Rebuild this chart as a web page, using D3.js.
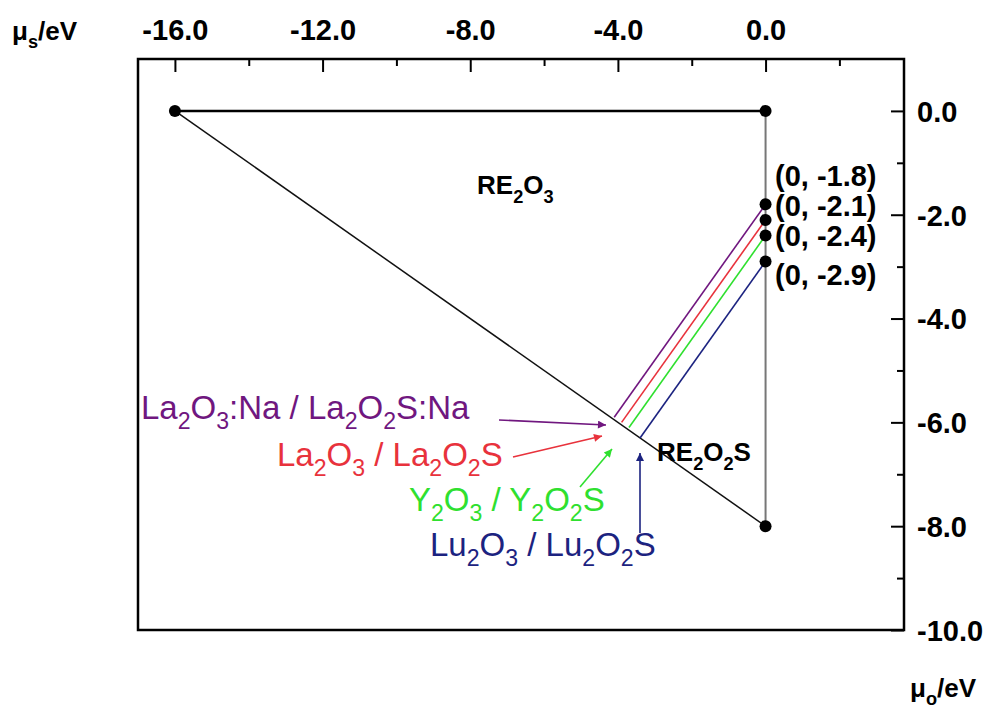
<!DOCTYPE html>
<html>
<meta charset="utf-8">
<script src="https://d3js.org/d3.v7.js"></script>
<style>
  body { margin: 0; background: #fff; }
  text { font-family: "Liberation Sans", Arial, sans-serif; }
</style>
<body>
<div id="my_dataviz"></div>
<script type="text/javascript">
  // phase triangle corners (mu_O, mu_S)
  var corners = [[-16, 0], [0, 0], [0, -8]]
  // mu_S limits on the mu_O = 0 edge
  var limits = [-1.8, -2.1, -2.4, -2.9]
  var limitLabels = ["(0, -1.8)", "(0, -2.1)", "(0, -2.4)", "(0, -2.9)"]
  // coexistence lines end on the RE2O3 / RE2O2S boundary
  var lineEnds = [[-4.1, -5.9], [-3.9, -6.0], [-3.7, -6.1], [-3.4, -6.3]]
  var systems = ["La{2}O{3}:Na / La{2}O{2}S:Na", "La{2}O{3} / La{2}O{2}S", "Y{2}O{3} / Y{2}O{2}S", "Lu{2}O{3} / Lu{2}O{2}S"]
  var colors = ["#70177f", "#e8323c", "#2fe02f", "#1c2380"]
  var xTicks = [-16, -12, -8, -4, 0]
  var xMinor = [-14, -10, -6, -2, 2]
  var yTicks = [0, -2, -4, -6, -8, -10]
  var yMinor = [-1, -3, -5, -7, -9]

  var W = 991, H = 722
  var svg = d3.select("#my_dataviz")
    .append("svg")
      .attr("width", W)
      .attr("height", H)

  var x = d3.scaleLinear().domain([-17, 3.75]).range([138, 904])
  var y = d3.scaleLinear().domain([-10, 1]).range([630, 59])

  // write text with {sub} parts as subscripts
  function rich(g, str, sub) {
    var parts = str.split(/(\{[^}]*\})/).filter(function(s){ return s.length })
    var down = false
    parts.forEach(function(p) {
      var isSub = p[0] == "{"
      var t = g.append("tspan").text(isSub ? p.slice(1, -1) : p)
      if (isSub) {
        t.attr("font-size", "0.7em").attr("dy", sub + "em")
        down = true
      } else if (down) {
        t.attr("dy", (-sub * 0.7) + "em")
        down = false
      }
    })
    return g
  }

  // frame
  svg.append("rect")
    .attr("x", x(-17)).attr("y", y(1))
    .attr("width", x(3.75) - x(-17)).attr("height", y(-10) - y(1))
    .attr("fill", "none").attr("stroke", "#000").attr("stroke-width", 2.5)

  // top axis
  var fmt = function(d) { return d.toFixed(1) }
  var top = svg.append("g").attr("transform", "translate(0," + y(1) + ")")
    .call(d3.axisTop(x).tickValues(xTicks).tickSize(-13).tickPadding(19).tickFormat(fmt))
  svg.append("g").attr("transform", "translate(0," + y(1) + ")")
    .call(d3.axisTop(x).tickValues(xMinor).tickSize(-7).tickFormat(""))
  // right axis
  var right = svg.append("g").attr("transform", "translate(" + x(3.75) + ",0)")
    .call(d3.axisRight(y).tickValues(yTicks).tickSize(-13).tickPadding(13).tickFormat(fmt))
  svg.append("g").attr("transform", "translate(" + x(3.75) + ",0)")
    .call(d3.axisRight(y).tickValues(yMinor).tickSize(-7).tickFormat(""))

  svg.selectAll(".domain").remove()
  svg.selectAll(".tick line").attr("stroke", "#000").attr("stroke-width", 2)
  svg.selectAll(".tick text")
    .attr("fill", "#000").attr("font-size", 29).attr("font-weight", "bold")
    .attr("font-family", "Liberation Sans, Arial, sans-serif")
  right.selectAll(".tick text").attr("dy", "0.36em")

  // triangle edges
  svg.append("line")
    .attr("x1", x(corners[0][0])).attr("y1", y(corners[0][1]))
    .attr("x2", x(corners[1][0])).attr("y2", y(corners[1][1]))
    .attr("stroke", "#000").attr("stroke-width", 2.5)
  svg.append("line")
    .attr("x1", x(corners[0][0])).attr("y1", y(corners[0][1]))
    .attr("x2", x(corners[2][0])).attr("y2", y(corners[2][1]))
    .attr("stroke", "#111").attr("stroke-width", 1.5)
  svg.append("line")
    .attr("x1", x(corners[1][0])).attr("y1", y(corners[1][1]))
    .attr("x2", x(corners[2][0])).attr("y2", y(corners[2][1]))
    .attr("stroke", "#777").attr("stroke-width", 2)

  // coexistence lines
  svg.selectAll(".coex")
    .data(limits)
    .enter()
    .append("line")
      .attr("x1", x(0))
      .attr("y1", function(d) { return y(d) })
      .attr("x2", function(d, i) { return x(lineEnds[i][0]) })
      .attr("y2", function(d, i) { return y(lineEnds[i][1]) })
      .attr("stroke", function(d, i) { return colors[i] })
      .attr("stroke-width", 1.6)

  // points
  svg.selectAll(".corner")
    .data(corners)
    .enter()
    .append("circle")
      .attr("cx", function(d) { return x(d[0]) })
      .attr("cy", function(d) { return y(d[1]) })
      .attr("r", 6).attr("fill", "#000")
  svg.selectAll(".lim")
    .data(limits)
    .enter()
    .append("circle")
      .attr("cx", x(0))
      .attr("cy", function(d) { return y(d) })
      .attr("r", 6).attr("fill", "#000")

  // limit labels
  var limBase = [186, 216, 246, 285]
  svg.selectAll(".limlab")
    .data(limitLabels)
    .enter()
    .append("text")
      .attr("x", 775)
      .attr("y", function(d, i) { return limBase[i] })
      .attr("font-size", 29).attr("font-weight", "bold")
      .text(function(d) { return d })

  // phase names
  rich(svg.append("text").attr("x", 477).attr("y", 194)
    .attr("font-size", 26).attr("font-weight", "bold"), "RE{2}O{3}", 0.5)
  rich(svg.append("text").attr("x", 657).attr("y", 461)
    .attr("font-size", 26).attr("font-weight", "bold"), "RE{2}O{2}S", 0.5)

  // system labels with arrows
  svg.append("defs").selectAll("marker")
    .data(colors)
    .enter()
    .append("marker")
      .attr("id", function(d, i) { return "ah" + i })
      .attr("viewBox", "0 0 10 10")
      .attr("refX", 10).attr("refY", 5)
      .attr("markerWidth", 11).attr("markerHeight", 8)
      .attr("markerUnits", "userSpaceOnUse")
      .attr("orient", "auto")
    .append("path")
      .attr("d", "M0,0 L10,5 L0,10 z")
      .attr("fill", function(d) { return d })

  var labPos = [[141, 419], [277, 466], [409, 511], [430, 556]]
  var arrows = [[[499, 420], [606, 425]], [[513, 457], [602, 436]], [[580, 487], [612, 449]], [[640, 533], [640, 453]]]
  systems.forEach(function(s, i) {
    rich(svg.append("text").attr("x", labPos[i][0]).attr("y", labPos[i][1])
      .attr("font-size", 33).attr("fill", colors[i]), s, 0.42)
    svg.append("line")
      .attr("x1", arrows[i][0][0]).attr("y1", arrows[i][0][1])
      .attr("x2", arrows[i][1][0]).attr("y2", arrows[i][1][1])
      .attr("stroke", colors[i]).attr("stroke-width", 1.6)
      .attr("marker-end", "url(#ah" + i + ")")
  })

  // axis titles
  rich(svg.append("text").attr("x", 12).attr("y", 40)
    .attr("font-size", 26).attr("font-weight", "bold"), "\u03bc{s}/eV", 0.45)
  rich(svg.append("text").attr("x", 910).attr("y", 697)
    .attr("font-size", 26).attr("font-weight", "bold"), "\u03bc{o}/eV", 0.45)
</script>
</body>
</html>
